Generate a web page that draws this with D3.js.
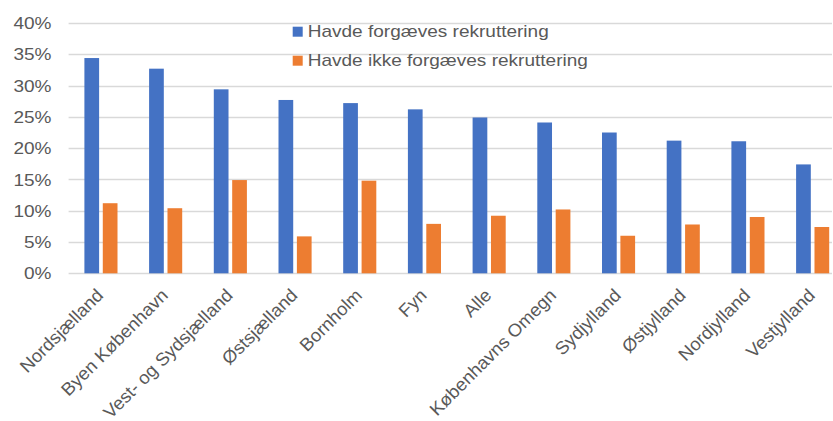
<!DOCTYPE html>
<html>
<head>
<meta charset="utf-8">
<script src="https://cdn.jsdelivr.net/npm/d3@7"></script>
<style>
html,body{margin:0;padding:0;background:#fff;}
svg{display:block;}
text{font-family:"Liberation Sans",Arial,sans-serif;fill:#595959;}
</style>
</head>
<body>
<svg id="chart" width="833" height="421"></svg>
<script>
const categories = ["Nordsjælland","Byen København","Vest- og Sydsjælland","Østsjælland","Bornholm","Fyn","Alle","Københavns Omegn","Sydjylland","Østjylland","Nordjylland","Vestjylland"];
const seriesNames = ["Havde forgæves rekruttering","Havde ikke forgæves rekruttering"];
const forgaeves = [0.344,0.327,0.294,0.277,0.272,0.262,0.249,0.241,0.225,0.212,0.211,0.174];
const ikkeForgaeves = [0.112,0.104,0.149,0.059,0.148,0.079,0.092,0.102,0.060,0.078,0.090,0.074];
const yTicks = [0,0.05,0.10,0.15,0.20,0.25,0.30,0.35,0.40];
const colors = ["#4472C4","#ED7D31"];

const svg = d3.select("#chart");
const pLeft = 68.6, pRight = 845, pTop = 23, pBottom = 273.3;
const y = d3.scaleLinear().domain([0,0.4]).range([pBottom, pTop]);
const x0 = d3.scaleBand().domain(categories).range([pLeft, pRight]).padding(0);
const groupW = 33.1;
const x1 = d3.scaleBand().domain(seriesNames).range([0, groupW]).paddingInner(0.2);

// gridlines
svg.append("g").selectAll("line").data(yTicks).join("line")
  .attr("x1", pLeft).attr("x2", 832)
  .attr("y1", d => Math.round(y(d)) + 0.5).attr("y2", d => Math.round(y(d)) + 0.5)
  .attr("stroke", "#D9D9D9").attr("stroke-width", 1.3);

// y labels
const fmt = d3.format(".0%");
svg.append("g").selectAll("text").data(yTicks).join("text")
  .attr("transform", d => `translate(51.5,${y(d)}) scale(1.12,1)`)
  .attr("text-anchor", "end").attr("dy", "0.36em")
  .style("font-size", "17px")
  .text(d => fmt(d));

// bars
const data = categories.map((c,i) => ({c, vals:[forgaeves[i], ikkeForgaeves[i]]}));
const groups = svg.append("g").selectAll("g").data(data).join("g")
  .attr("transform", d => `translate(${x0(d.c) + (x0.bandwidth() - groupW)/2},0)`);
groups.selectAll("rect").data(d => d.vals.map((v,j) => ({s: seriesNames[j], v, j}))).join("rect")
  .attr("x", d => x1(d.s)).attr("width", x1.bandwidth())
  .attr("y", d => y(d.v)).attr("height", d => y(0) - y(d.v))
  .attr("fill", d => colors[d.j]);

// x labels
svg.append("g").selectAll("text").data(categories).join("text")
  .attr("transform", d => `translate(${x0(d) + x0.bandwidth()/2 - 1},${292}) rotate(-45) scale(1.03,1)`)
  .attr("text-anchor", "end").attr("dy", "0.35em")
  .style("font-size", "18px")
  .text(d => d);

// legend
const leg = svg.append("g").selectAll("g").data(seriesNames).join("g")
  .attr("transform", (d,i) => `translate(292.7,${26.7 + i*29})`);
leg.append("rect").attr("width", 10).attr("height", 10).attr("fill", (d,i) => colors[i]);
leg.append("text").attr("transform", "translate(15,10.6) scale(1.12,1)")
  .style("font-size", "17px").text(d => d);
</script>
</body>
</html>
